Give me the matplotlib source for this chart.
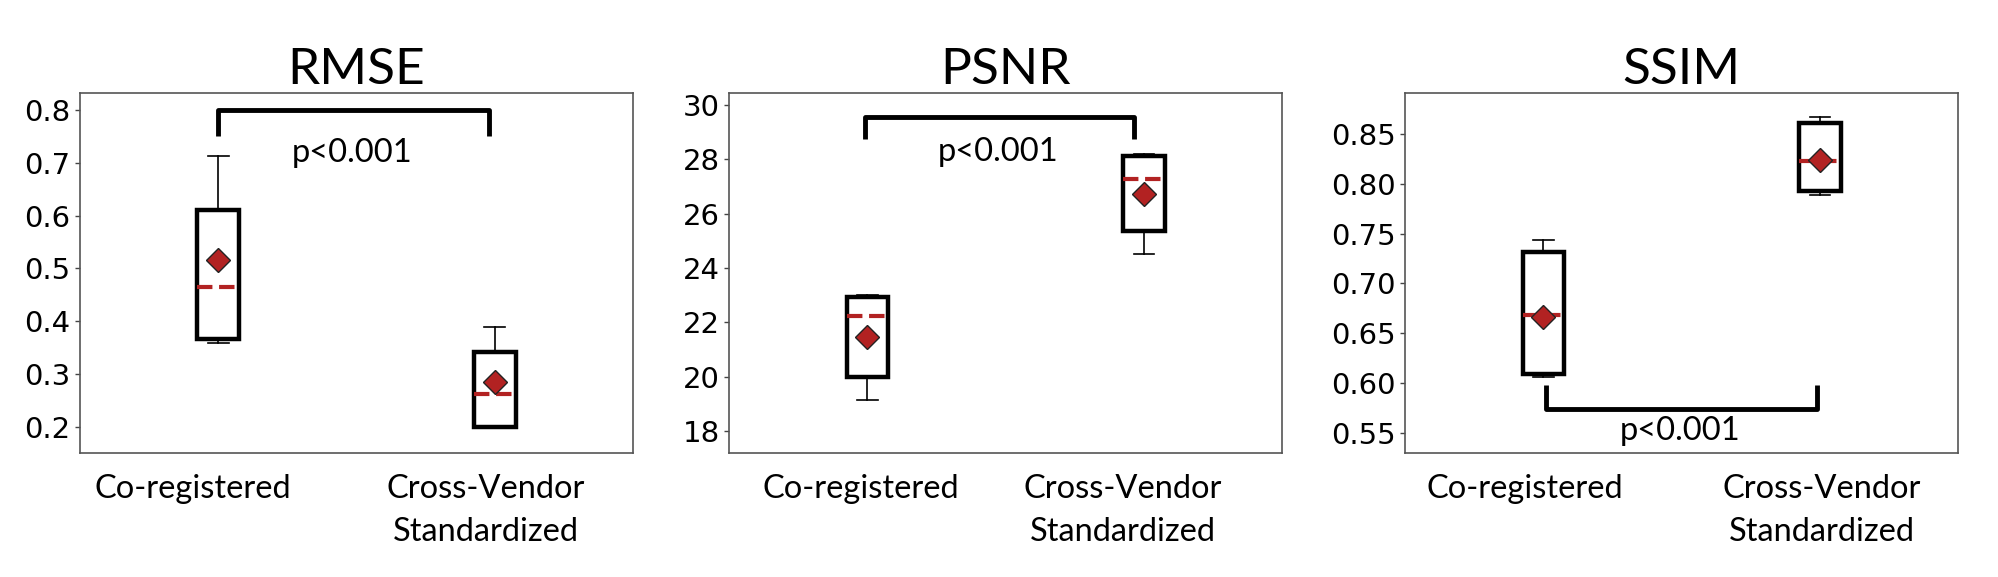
import matplotlib
matplotlib.use('Agg')
import matplotlib.pyplot as plt
from matplotlib.transforms import ScaledTranslation

plt.rcParams['font.family'] = ['Lato', 'DejaVu Sans']

categories = ['Co-registered', 'Cross-Vendor\nStandardized']
metrics = ['RMSE', 'PSNR', 'SSIM']

# box statistics per metric: [Co-registered, Cross-Vendor Standardized]
rmse_whislo = [0.358, 0.200]
rmse_q1 = [0.367, 0.200]
rmse_med = [0.465, 0.262]
rmse_q3 = [0.610, 0.342]
rmse_whishi = [0.713, 0.389]
rmse_mean = [0.516, 0.284]

psnr_whislo = [19.13, 24.52]
psnr_q1 = [20.00, 25.37]
psnr_med = [22.25, 27.27]
psnr_q3 = [22.95, 28.12]
psnr_whishi = [23.00, 28.19]
psnr_mean = [21.47, 26.71]

ssim_whislo = [0.606, 0.789]
ssim_q1 = [0.609, 0.793]
ssim_med = [0.668, 0.823]
ssim_q3 = [0.731, 0.861]
ssim_whishi = [0.744, 0.867]
ssim_mean = [0.666, 0.824]

rmse_ticks = [0.2, 0.3, 0.4, 0.5, 0.6, 0.7, 0.8]
psnr_ticks = [18, 20, 22, 24, 26, 28, 30]
ssim_ticks = [0.55, 0.60, 0.65, 0.70, 0.75, 0.80, 0.85]
rmse_ticklabels = ['0.2', '0.3', '0.4', '0.5', '0.6', '0.7', '0.8']
psnr_ticklabels = ['18', '20', '22', '24', '26', '28', '30']
ssim_ticklabels = ['0.55', '0.60', '0.65', '0.70', '0.75', '0.80', '0.85']

p_label = 'p<0.001'

panels = [
    dict(title='RMSE', lo=rmse_whislo, q1=rmse_q1, med=rmse_med, q3=rmse_q3, hi=rmse_whishi,
         mean=rmse_mean, ticks=rmse_ticks, labels=rmse_ticklabels, ylim=(0.150, 0.833),
         br=(1.0, 1.98, 0.800, 0.752), txt=(1.485, 0.702), left=0.040, lab_dx=(-25, -9)),
    dict(title='PSNR', lo=psnr_whislo, q1=psnr_q1, med=psnr_med, q3=psnr_q3, hi=psnr_whishi,
         mean=psnr_mean, ticks=psnr_ticks, labels=psnr_ticklabels, ylim=(17.19, 30.45),
         br=(0.99, 1.963, 29.55, 28.74), txt=(1.474, 27.93), left=0.3647, lab_dx=(-7, -21)),
    dict(title='SSIM', lo=ssim_whislo, q1=ssim_q1, med=ssim_med, q3=ssim_q3, hi=ssim_whishi,
         mean=ssim_mean, ticks=ssim_ticks, labels=ssim_ticklabels, ylim=(0.530, 0.891),
         br=(1.01, 1.99, 0.574, 0.598), txt=(1.495, 0.5434), left=0.7029, lab_dx=(-19, 2)),
]

fig = plt.figure(figsize=(19.99, 5.77), dpi=100)
red = '#B22222'

for p in panels:
    ax = fig.add_axes([p['left'], 0.215, 0.2767, 0.624])
    stats = []
    for i in range(2):
        stats.append(dict(whislo=p['lo'][i], q1=p['q1'][i], med=p['med'][i], q3=p['q3'][i],
                          whishi=p['hi'][i], mean=p['mean'][i], fliers=[]))
    ax.bxp(stats, positions=[1, 2], widths=0.15, showmeans=True, patch_artist=True,
           boxprops=dict(facecolor='white', edgecolor='black', linewidth=3.2),
           whiskerprops=dict(color='black', linewidth=1.2),
           capprops=dict(color='black', linewidth=1.2),
           medianprops=dict(color=red, linewidth=3, linestyle='--'),
           meanprops=dict(marker='D', markerfacecolor=red, markeredgecolor='#222222',
                          markeredgewidth=1.0, markersize=12))
    ax.set_xlim(0.5, 2.5)
    ax.set_ylim(*p['ylim'])
    ax.set_yticks(p['ticks'])
    ax.set_yticklabels(p['labels'], family='DejaVu Sans')
    ax.set_xticks([1, 2])
    ax.set_xticklabels(categories, linespacing=1.55)
    ax.tick_params(axis='y', labelsize=21, length=3.8, width=1, color='#444444', pad=3)
    ax.tick_params(axis='x', labelsize=23.5, length=0, pad=15)
    for lab, dx in zip(ax.get_xticklabels(), p['lab_dx']):
        lab.set_transform(lab.get_transform() + ScaledTranslation(dx / 100, 0, fig.dpi_scale_trans))
    for s in ax.spines.values():
        s.set_color('#555555')
        s.set_linewidth(1.2)
    ax.set_title(p['title'], fontsize=37, pad=5)
    x0, x1, yb, yt = p['br']
    ax.plot([x0, x0, x1, x1], [yt, yb, yb, yt], color='black', linewidth=3.5,
            solid_joinstyle='round', solid_capstyle='butt')
    ax.text(p['txt'][0], p['txt'][1], p_label, ha='center', va='baseline', fontsize=23.5)

fig.savefig('out.png', dpi=100)
